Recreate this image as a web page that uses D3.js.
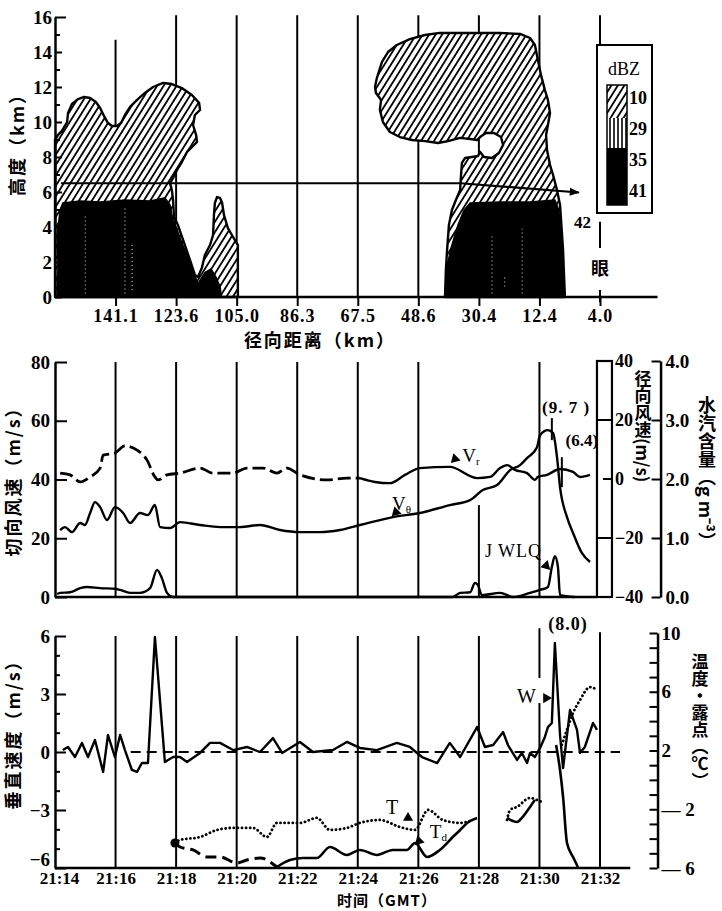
<!DOCTYPE html>
<html>
<head>
<meta charset="utf-8">
<script src="https://cdn.jsdelivr.net/npm/d3@7"></script>
<style>
  body { margin: 0; background: #fff; }
  svg text { font-family: "Liberation Serif", "DejaVu Serif", serif; fill: #000; }
  svg .cn { font-family: "Noto Sans CJK SC", sans-serif; font-weight: 700; }
</style>
</head>
<body>
<svg id="chart" width="722" height="911"></svg>
<script>
// ---- time axis: minutes after 21:14 ----
var timeTicks = [0, 2, 4, 6, 8, 10, 12, 14, 16, 18];
var timeLabels = ["21:14", "21:16", "21:18", "21:20", "21:22", "21:24", "21:26", "21:28", "21:30", "21:32"];
var distTicks = [2, 4, 6, 8, 10, 12, 14, 16, 18];
var distLabels = ["141.1", "123.6", "105.0", "86.3", "67.5", "48.6", "30.4", "12.4", "4.0"];
var dbzLevels = ["10", "29", "35", "41"];

// ---- top panel: echo outlines [minute, height km] ----
var echo10Left = [[0,8.97],[0.10,9.26],[0.23,9.49],[0.40,10.0],[0.43,10.51],[0.56,11.03],[0.76,11.31],[0.96,11.43],
  [1.16,11.37],[1.35,11.14],[1.49,10.8],[1.62,10.34],[1.75,9.94],[1.88,9.77],[2.05,9.77],[2.18,9.94],[2.31,10.4],
  [2.48,10.86],[2.71,11.26],[2.97,11.66],[3.24,12.0],[3.57,12.23],[3.86,12.17],[4.19,11.94],[4.52,11.54],[4.76,11.09],
  [4.79,10.69],[4.62,10.4],[4.56,9.83],[4.66,9.26],[4.69,8.86],[4.56,8.63],[4.36,8.29],[4.19,7.71],[4.03,7.26],
  [3.90,6.8],[3.80,6.51],[3.86,6.11],[3.90,5.54],[3.93,4.57],[4.06,4.11],[4.23,3.26],[4.46,2.11],[4.62,1.26],
  [4.72,1.14],[4.85,1.66],[4.95,2.4],[5.12,2.97],[5.22,3.54],[5.25,4.69],[5.28,5.37],[5.35,5.71],[5.45,5.66],
  [5.52,5.37],[5.58,4.69],[5.71,3.94],[5.88,3.43],[6.04,2.97],[6.04,0],[0,0]];
var echo41Left = [[0.07,0],[0.10,1.83],[0.07,3.54],[0.17,4.97],[0.26,5.37],[0.83,5.49],[1.49,5.43],[2.31,5.54],
  [3.14,5.49],[3.63,5.66],[3.80,5.26],[3.86,4.69],[4.13,3.37],[4.39,2.23],[4.62,1.26],[4.72,0.69],[4.79,0]];
var echo41Bump = [[4.52,0],[4.70,0.7],[4.95,1.4],[5.15,1.6],[5.30,1.2],[5.45,0.6],[5.50,0]];
var echo10Right = [[10.57,12.0],[10.63,12.51],[10.80,13.43],[11.00,14.0],[11.29,14.4],[11.72,14.74],[12.22,14.97],
  [12.71,15.09],[14.70,15.09],[15.36,15.03],[15.69,14.8],[15.85,14.4],[15.95,13.54],[16.05,12.69],[16.18,11.83],
  [16.28,11.26],[16.35,10.51],[16.28,9.83],[16.22,9.26],[16.25,8.4],[16.35,7.54],[16.45,6.97],[16.58,6.11],
  [16.68,5.26],[16.78,2.69],[16.84,0],[12.88,0],[12.91,1.54],[12.95,2.69],[13.01,4.11],[13.11,4.97],[13.24,5.54],
  [13.38,6.11],[13.41,6.97],[13.44,7.66],[13.54,7.94],[13.77,8.0],[13.97,8.06],[14.04,8.29],[14.17,8.0],[14.43,7.94],
  [14.66,8.23],[14.80,8.69],[14.73,9.14],[14.50,9.37],[14.23,9.37],[14.04,9.14],[13.94,8.97],[13.71,9.03],
  [13.38,9.09],[12.98,8.91],[12.65,8.8],[12.22,8.91],[11.79,8.97],[11.39,9.14],[11.06,9.43],[10.83,10.0],
  [10.73,10.69],[10.77,11.26],[10.60,11.66]];
var echo41Right = [[12.88,0],[12.95,1.83],[13.11,2.97],[13.31,4.11],[13.51,4.97],[13.71,5.37],[14.70,5.43],
  [15.69,5.43],[16.51,5.54],[16.64,4.97],[16.74,2.69],[16.84,0]];
// light streaks inside the strong echo: [minute, bottom km, top km]
var echoStreaks = [[1.0,0.2,4.6],[2.31,0.2,5.1],[2.55,0.4,3.0],[14.43,0.2,3.6],[14.85,0.6,1.2],[15.43,0.2,3.9]];
var flightTrack = [[0.2,6.5],[13.4,6.5],[17.3,5.97]];

// ---- middle panel ----
// tangential wind V_theta (m/s, left axis)
var vTheta = [[0.17,22.8],[0.33,23.8],[0.56,22.1],[0.83,25.2],[0.99,24.5],[1.16,28.6],[1.32,32.3],[1.49,30.6],
  [1.72,26.2],[1.98,30.6],[2.25,28.6],[2.48,25.2],[2.81,28.6],[3.07,27.9],[3.30,31.3],[3.47,23.8],[3.80,23.5],
  [4.13,25.5],[4.79,24.5],[5.45,23.8],[6.11,23.8],[6.77,24.5],[7.43,22.8],[8.09,22.1],[8.75,22.1],[9.41,22.8],
  [10.07,24.5],[11.16,27.2],[12.05,28.6],[13.04,31.3],[13.71,33.0],[14.13,36.4],[14.60,38.1],[15.03,43.2],
  [15.36,44.9],[15.59,47.3],[15.92,51.0],[16.02,55.1],[16.28,56.8],[16.45,55.8],[16.58,47.6],[16.68,37.4],
  [16.91,27.2],[17.11,21.8],[17.40,15.0],[17.67,11.9]];
// radial wind V_r (m/s, inner right axis); dashed before 21:24
var vRadial = [[0.17,2.0],[0.50,1.4],[0.83,-1.0],[1.16,0.7],[1.49,3.7],[1.59,8.1],[1.98,8.8],[2.31,11.2],
  [2.71,9.8],[3.04,6.4],[3.30,0.7],[3.40,-0.3],[3.70,1.4],[4.13,2.0],[4.79,3.7],[5.22,2.0],[5.88,2.0],[6.34,3.7],
  [6.87,3.7],[7.33,2.0],[7.66,3.7],[8.09,1.4],[8.98,-0.3],[9.64,0.3],[10.07,0.3],[10.57,-1.0],[11.06,-1.4],
  [11.56,1.4],[12.05,3.7],[13.04,4.1],[13.94,0.3],[14.37,0.7],[14.70,3.7],[14.93,4.7],[15.19,3.1],[15.59,2.0],
  [15.85,-0.3],[15.95,0.7],[16.25,1.4],[16.68,3.4],[17.11,2.4],[17.34,0.7],[17.67,1.4]];
var vRadialDashEnd = 10.07;
// liquid water content JWLQ (g m^-3, outer right axis)
var jwlq = [[0.07,0.05],[0.17,0.07],[0.50,0.08],[0.83,0.15],[1.06,0.17],[1.49,0.15],[1.98,0.14],[2.15,0.12],
  [2.48,0.07],[2.81,0.07],[3.14,0.15],[3.37,0.46],[3.53,0.32],[3.70,0.07],[3.90,0],[13.14,0],[13.38,0.07],
  [13.71,0.08],[13.87,0.24],[13.97,0.20],[14.10,0.03],[14.70,0.07],[15.13,0],[15.69,0.07],[16.02,0.12],
  [16.28,0.17],[16.41,0.51],[16.51,0.69],[16.61,0.51],[16.68,0.03],[17.17,0]];

// ---- bottom panel ----
// vertical velocity W (m/s)
var wVel = [[0.26,0.1],[0.43,0.26],[0.66,-0.26],[0.89,0.47],[1.09,-0.26],[1.32,0.62],[1.59,-1.03],[1.75,0.88],
  [1.98,-0.26],[2.15,0.88],[2.31,0.1],[2.54,-0.93],[2.71,-1.03],[2.87,-0.57],[3.07,-0.57],[3.30,5.95],
  [3.63,-0.52],[3.90,-0.26],[4.13,-0.26],[4.36,-0.52],[4.79,-0.05],[5.12,0.47],[5.45,0.47],[5.88,0.1],
  [6.34,0.26],[6.77,0],[7.20,0.72],[7.50,-0.05],[8.09,0.52],[8.52,0],[9.18,0.1],[9.64,0.52],[10.07,0.21],
  [10.63,0.1],[11.29,0.47],[11.72,0.26],[12.12,-0.26],[12.62,-0.57],[13.04,0.47],[13.38,-0.26],[13.94,1.29],
  [14.20,0.26],[14.47,0.36],[14.80,1.03],[14.96,0.36],[15.26,-0.41],[15.42,-0.05],[15.59,-0.57],[15.69,-0.05],
  [15.85,-0.26],[16.02,0.21],[16.18,0.78],[16.28,1.29],[16.41,1.5],[16.51,5.64],[16.68,0.88],[16.78,-0.83],
  [17.01,2.17],[17.24,1.14],[17.34,-0.05],[17.50,0.26],[17.77,1.5],[17.90,1.14]];
var wZeroSpan = [2.5, 18.66];
// temperature T (deg C, right axis), null = gap
var tempT = [[3.96,-4.30],[4.13,-4.09],[4.79,-3.89],[5.35,-3.41],[5.88,-3.27],[6.54,-3.27],[7.00,-3.89],
  [7.33,-2.93],[8.09,-2.93],[8.65,-2.59],[9.08,-3.41],[9.64,-3.27],[10.07,-2.93],[10.73,-2.73],[11.39,-3.21],
  [11.89,-3.41],[12.32,-2.05],[12.81,-2.73],[13.38,-2.93],[13.80,-2.73],null,
  [14.93,-2.73],[15.03,-2.05],[15.26,-1.84],[15.69,-1.23],[15.92,-1.37],[16.08,-1.50],null,
  [16.74,2.38],[16.94,3.60],[17.11,4.55],[17.34,5.44],[17.67,6.32],[17.90,6.12]];
// dew point Td (deg C), dashed at first
var tempTd = [[3.96,-4.30],[4.13,-4.57],[4.56,-4.77],[5.02,-5.25],[5.45,-5.25],[6.01,-5.66],[6.34,-5.45],
  [6.77,-5.32],[7.33,-5.93],[7.76,-5.45],[8.19,-5.32],[8.65,-5.32],[9.08,-4.57],[9.64,-5.11],[10.07,-4.77],
  [10.63,-5.11],[11.16,-4.77],[11.62,-4.77],[11.89,-4.30],[12.29,-5.25],[12.71,-4.77],[13.14,-3.89],
  [13.38,-3.41],[13.61,-2.93],[13.94,-2.59],null,
  [14.93,-2.59],[15.26,-2.87],[15.42,-2.59],[15.69,-1.84],[15.85,-1.37],null,
  [16.55,2.38],[16.68,0.67],[16.78,-1.16],[16.91,-4.30],[17.11,-5.25],[17.27,-5.93]];
var tdDashEnd = 7.33;

// ---------------- scales ----------------
var x = d3.scaleLinear().domain([0, 18]).range([55, 600]);
var yH = d3.scaleLinear().domain([0, 16]).range([297, 17]);
var yV = d3.scaleLinear().domain([0, 80]).range([597, 362]);
var yR = d3.scaleLinear().domain([-40, 40]).range([597, 361]);
var yQ = d3.scaleLinear().domain([0, 4]).range([597, 361]);
var yW = d3.scaleLinear().domain([-6, 6]).range([868, 636]);
var yT = d3.scaleLinear().domain([-6, 10]).range([868, 633]);

var svg = d3.select("#chart");
var defs = svg.append("defs");

var hatch = defs.append("pattern").attr("id", "hatch").attr("patternUnits", "userSpaceOnUse")
  .attr("width", 5.5).attr("height", 5.5).attr("patternTransform", "rotate(32)");
hatch.append("rect").attr("width", 5.5).attr("height", 5.5).attr("fill", "#fff");
hatch.append("line").attr("x1", 2.75).attr("x2", 2.75).attr("y1", -1).attr("y2", 7)
  .attr("stroke", "#000").attr("stroke-width", 1.8);

var vlines = defs.append("pattern").attr("id", "vlines").attr("patternUnits", "userSpaceOnUse")
  .attr("width", 4).attr("height", 10);
vlines.append("rect").attr("width", 4).attr("height", 10).attr("fill", "#fff");
vlines.append("line").attr("x1", 2).attr("x2", 2).attr("y1", 0).attr("y2", 10)
  .attr("stroke", "#000").attr("stroke-width", 1.6);

defs.append("marker").attr("id", "arrow").attr("viewBox", "0 0 10 10")
  .attr("refX", 9).attr("refY", 5).attr("markerWidth", 14).attr("markerHeight", 10)
  .attr("markerUnits", "userSpaceOnUse").attr("orient", "auto")
  .append("path").attr("d", "M0,1L10,5L0,9Z").attr("fill", "#000");

function vline(t, y0, y1, w) {
  svg.append("line").attr("x1", x(t)).attr("x2", x(t)).attr("y1", y0).attr("y2", y1)
    .attr("stroke", "#000").attr("stroke-width", w || 2);
}
function hline(x0, x1, y, w) {
  svg.append("line").attr("x1", x0).attr("x2", x1).attr("y1", y).attr("y2", y)
    .attr("stroke", "#000").attr("stroke-width", w || 2.5);
}
function styleAxis(g, size) {
  g.select(".domain").attr("stroke-width", 2.5);
  g.selectAll(".tick line").attr("stroke-width", 2);
  g.selectAll(".tick text").attr("font-size", size || 18).attr("font-weight", "bold");
}

// ================= TOP PANEL =================
timeTicks.forEach(function (t) {
  if (t === 0) return;
  if (t === 2) vline(t, yH(14.7), yH(9.7));
  else if (t === 18) {
    vline(t, yH(16.1), yH(14.4));
    vline(t, yH(4.3), yH(2.8));
    vline(t, yH(0.4), yH(-0.3));
  } else vline(t, yH(16.1), yH(0));
});

var poly = d3.line().x(function (d) { return x(d[0]); }).y(function (d) { return yH(d[1]); })
  .curve(d3.curveLinearClosed);
[echo10Left, echo10Right].forEach(function (p) {
  svg.append("path").attr("d", poly(p)).attr("fill", "url(#hatch)")
    .attr("stroke", "#000").attr("stroke-width", 2.4).attr("stroke-linejoin", "round");
});
[echo41Left, echo41Bump, echo41Right].forEach(function (p) {
  svg.append("path").attr("d", poly(p)).attr("fill", "#000").attr("stroke", "#000").attr("stroke-width", 1.5);
});
echoStreaks.forEach(function (s) {
  svg.append("line").attr("x1", x(s[0])).attr("x2", x(s[0])).attr("y1", yH(s[1])).attr("y2", yH(s[2]))
    .attr("stroke", "#bbb").attr("stroke-width", 1.2).attr("stroke-dasharray", "1,3");
});

svg.append("path").attr("d", d3.line().x(function (d) { return x(d[0]); }).y(function (d) { return yH(d[1]); })(flightTrack))
  .attr("fill", "none").attr("stroke", "#000").attr("stroke-width", 2.2).attr("marker-end", "url(#arrow)");

// axes
var gTopL = svg.append("g").attr("transform", "translate(" + x(0) + ",0)")
  .call(d3.axisLeft(yH).tickValues(d3.range(0, 17)).tickSizeInner(-6).tickSizeOuter(0).tickPadding(3)
    .tickFormat(function (d) { return d % 2 ? "" : d; }));
styleAxis(gTopL, 19);
gTopL.selectAll(".tick line").attr("x2", function (d) { return d === 16 ? 11 : (d % 2 ? 5 : 7); });

var gTopB = svg.append("g").attr("transform", "translate(0," + yH(0) + ")")
  .call(d3.axisBottom(x).tickValues(distTicks).tickSizeInner(9).tickSizeOuter(0).tickPadding(3)
    .tickFormat(function (d, i) { return distLabels[i]; }));
gTopB.select(".domain").remove();
styleAxis(gTopB, 18);
gTopB.selectAll(".tick text").attr("letter-spacing", 1);
hline(x(0), x(19.9), yH(0));

// legend
var lg = svg.append("g");
lg.append("rect").attr("x", 597).attr("y", 45).attr("width", 55).attr("height", 168)
  .attr("fill", "#fff").attr("stroke", "#000").attr("stroke-width", 2);
lg.append("text").attr("x", 624).attr("y", 75).attr("text-anchor", "middle").attr("font-size", 18).text("dBZ");
lg.append("rect").attr("x", 607).attr("y", 85).attr("width", 20).attr("height", 33).attr("fill", "url(#hatch)");
lg.append("rect").attr("x", 607).attr("y", 118).attr("width", 20).attr("height", 30).attr("fill", "url(#vlines)");
lg.append("rect").attr("x", 607).attr("y", 148).attr("width", 20).attr("height", 57).attr("fill", "#000");
lg.append("rect").attr("x", 607).attr("y", 85).attr("width", 20).attr("height", 120)
  .attr("fill", "none").attr("stroke", "#000").attr("stroke-width", 1.5);
lg.selectAll("text.lv").data(dbzLevels).enter().append("text").attr("class", "lv")
  .attr("x", 629).attr("y", function (d, i) { return 104 + i * 31; })
  .attr("font-size", 18).attr("font-weight", "bold").text(function (d) { return d; });
svg.append("text").attr("x", 591).attr("y", 228).attr("text-anchor", "end").attr("font-size", 17)
  .attr("font-weight", "bold").text("42");
svg.append("text").attr("class", "cn").attr("x", x(18)).attr("y", 275).attr("text-anchor", "middle")
  .attr("font-size", 18).text("眼");

svg.append("text").attr("transform", "translate(24,140) rotate(-90)").attr("class", "cn")
  .attr("text-anchor", "middle").attr("font-size", 18).attr("letter-spacing", 2).text("高度（km）");
svg.append("text").attr("class", "cn").attr("x", 320).attr("y", 347).attr("text-anchor", "middle")
  .attr("font-size", 18).attr("letter-spacing", 2).text("径向距离（km）");

// ================= MIDDLE PANEL =================
timeTicks.forEach(function (t) {
  if (t === 0 || t === 18) return;
  if (t === 14) vline(t, yV(31.3), yV(0));
  else vline(t, yV(80), yV(0));
});

function series(data, ys) {
  return d3.line().defined(function (d) { return d !== null; })
    .x(function (d) { return x(d[0]); }).y(function (d) { return ys(d[1]); })
    .curve(d3.curveMonotoneX)(data);
}
svg.append("path").attr("d", series(vRadial.filter(function (d) { return d[0] <= vRadialDashEnd; }), yR))
  .attr("fill", "none").attr("stroke", "#000").attr("stroke-width", 2.8).attr("stroke-dasharray", "13,5");
svg.append("path").attr("d", series(vRadial.filter(function (d) { return d[0] >= vRadialDashEnd; }), yR))
  .attr("fill", "none").attr("stroke", "#000").attr("stroke-width", 2.4);
svg.append("path").attr("d", series(vTheta, yV)).attr("fill", "none").attr("stroke", "#000").attr("stroke-width", 2.4);
svg.append("path").attr("d", series(jwlq, yQ)).attr("fill", "none").attr("stroke", "#000").attr("stroke-width", 2.4);

// off-scale markers
svg.append("line").attr("x1", x(16.41)).attr("x2", x(16.41)).attr("y1", yV(60.9)).attr("y2", yV(53.4))
  .attr("stroke", "#000").attr("stroke-width", 2);
svg.append("line").attr("x1", x(16.74)).attr("x2", x(16.74)).attr("y1", yV(47.6)).attr("y2", yV(37.4))
  .attr("stroke", "#000").attr("stroke-width", 2);
svg.append("text").attr("x", x(16.88)).attr("y", yV(62.6)).attr("text-anchor", "middle").attr("font-size", 17)
  .attr("font-weight", "bold").attr("letter-spacing", 1).text("(9. 7 )");
svg.append("text").attr("x", x(17.40)).attr("y", yV(51.4)).attr("text-anchor", "middle").attr("font-size", 17)
  .attr("font-weight", "bold").text("(6.4)");

// labels and pointers
function pointer(t, v, ys, rot) {
  svg.append("path").attr("d", d3.symbol().type(d3.symbolTriangle).size(45)())
    .attr("transform", "translate(" + x(t) + "," + ys(v) + ") rotate(" + rot + ")").attr("fill", "#000");
}
function subLabel(t, v, ys, main, sub) {
  var tx = svg.append("text").attr("x", x(t)).attr("y", ys(v)).attr("font-size", 19);
  tx.append("tspan").text(main);
  if (sub) tx.append("tspan").attr("font-size", 11).attr("dy", 3).text(sub);
}
pointer(13.21, 6.8, yR, 225);
subLabel(13.45, 5.8, yR, "V", "r");
pointer(11.26, 28.9, yV, 225);
subLabel(11.13, 29.6, yV, "V", "θ");
pointer(16.22, 0.53, yQ, 135);
svg.append("text").attr("x", x(14.2)).attr("y", yV(13.6)).attr("font-size", 18).attr("letter-spacing", 1).text("J WLQ");

// axes
var gMidL = svg.append("g").attr("transform", "translate(" + x(0) + ",0)")
  .call(d3.axisLeft(yV).tickValues([0, 20, 40, 60, 80]).tickSizeInner(-12).tickSizeOuter(0).tickPadding(5));
styleAxis(gMidL, 19);
hline(x(0), x(17.9), yV(0));

// radial-wind box axis
var bx0 = x(17.9), bx1 = x(17.9) + 15;
svg.append("rect").attr("x", bx0).attr("y", yR(40)).attr("width", bx1 - bx0).attr("height", yR(-40) - yR(40))
  .attr("fill", "none").attr("stroke", "#000").attr("stroke-width", 2.2);
[20, -20].forEach(function (v) { hline(bx0, bx1, yR(v), 2); });
hline(bx0 + 6, bx1, yR(0), 2);
svg.selectAll("text.rl").data([40, 20, 0, -20, -40]).enter().append("text").attr("class", "rl")
  .attr("x", bx1 + 3).attr("y", function (d) { return yR(d); }).attr("dy", "0.35em").attr("font-size", 18)
  .attr("font-weight", "bold").text(function (d) { return d3.format("d")(d); });

var gMidR = svg.append("g").attr("transform", "translate(" + x(20) + ",0)")
  .call(d3.axisRight(yQ).tickValues([0, 1, 2, 3, 4]).tickSizeInner(-9).tickSizeOuter(0).tickPadding(5)
    .tickFormat(d3.format(".1f")));
styleAxis(gMidR, 19);

svg.append("text").attr("transform", "translate(20,477) rotate(-90)").attr("class", "cn")
  .attr("text-anchor", "middle").attr("font-size", 18).attr("letter-spacing", 2).text("切向风速（m/s）");
svg.append("text").attr("class", "cn").attr("x", 643).attr("y", 370).style("writing-mode", "vertical-rl")
  .attr("font-size", 17).text("径向风速(m/s)");
svg.append("text").attr("class", "cn").attr("x", 707).attr("y", 396).style("writing-mode", "vertical-rl")
  .attr("font-size", 18).text("水汽含量（g m⁻³）");

// ================= BOTTOM PANEL =================
timeTicks.forEach(function (t) {
  if (t === 0) return;
  if (t === 16) { vline(t, yW(6.4), yW(3.83)); vline(t, yW(2.53), yW(-6)); }
  else if (t === 18) vline(t, yW(6.2), yW(-6));
  else vline(t, yW(6), yW(-6));
});

svg.append("line").attr("x1", x(wZeroSpan[0])).attr("x2", x(wZeroSpan[1])).attr("y1", yW(0)).attr("y2", yW(0))
  .attr("stroke", "#000").attr("stroke-width", 2).attr("stroke-dasharray", "10,6");

var lin = function (data, ys) {
  return d3.line().defined(function (d) { return d !== null; })
    .x(function (d) { return x(d[0]); }).y(function (d) { return ys(d[1]); })(data);
};
svg.append("path").attr("d", lin(wVel, yW)).attr("fill", "none").attr("stroke", "#000")
  .attr("stroke-width", 2.4).attr("stroke-linejoin", "round");
svg.append("path").attr("d", series(tempT, yT)).attr("fill", "none").attr("stroke", "#000")
  .attr("stroke-width", 2.8).attr("stroke-dasharray", "0.1,4").attr("stroke-linecap", "round");
var tdSplit = tempTd.findIndex(function (d) { return d && d[0] >= tdDashEnd; });
svg.append("path").attr("d", series(tempTd.slice(0, tdSplit + 1), yT)).attr("fill", "none").attr("stroke", "#000")
  .attr("stroke-width", 3).attr("stroke-dasharray", "11,6");
svg.append("path").attr("d", series(tempTd.slice(tdSplit), yT)).attr("fill", "none").attr("stroke", "#000")
  .attr("stroke-width", 2.6);
svg.append("circle").attr("cx", x(tempT[0][0])).attr("cy", yT(tempT[0][1])).attr("r", 4.5).attr("fill", "#000");

svg.append("text").attr("x", x(16.94)).attr("y", yW(6.31)).attr("text-anchor", "middle").attr("font-size", 18)
  .attr("font-weight", "bold").attr("letter-spacing", 1).text("(8.0)");
pointer(16.22, 2.79, yW, 90);
svg.append("text").attr("x", x(15.26)).attr("y", yW(2.53)).attr("font-size", 20).text("W");
pointer(11.66, -2.59, yT, 120);
svg.append("text").attr("x", x(10.93)).attr("y", yT(-2.32)).attr("font-size", 20).text("T");
pointer(12.02, -4.16, yT, 225);
subLabel(12.38, -3.96, yT, "T", "d");

// axes
var gBotL = svg.append("g").attr("transform", "translate(" + x(0) + ",0)")
  .call(d3.axisLeft(yW).tickValues(d3.range(-6, 7)).tickSizeInner(-6).tickSizeOuter(0).tickPadding(5)
    .tickFormat(function (d) { return d % 3 ? "" : d3.format("d")(d); }));
styleAxis(gBotL, 19);
gBotL.selectAll(".tick line").attr("x2", function (d) { return d % 3 ? 5 : 11; });
gBotL.selectAll(".tick text").attr("dy", function (d) { return d === -6 ? "-0.15em" : "0.32em"; });

var gBotR = svg.append("g").attr("transform", "translate(" + x(19.9) + ",0)")
  .call(d3.axisRight(yT).tickValues(d3.range(-6, 11)).tickSizeInner(-8).tickSizeOuter(0).tickPadding(4)
    .tickFormat(function (d) { return [10, 6, 2].indexOf(d) >= 0 ? d : (d === -2 || d === -6 ? "— " + (-d) : ""); }));
styleAxis(gBotR, 19);

var gBotB = svg.append("g").attr("transform", "translate(0," + yW(-6) + ")")
  .call(d3.axisBottom(x).tickValues(timeTicks).tickSize(0).tickPadding(4)
    .tickFormat(function (d, i) { return timeLabels[i]; }));
gBotB.select(".domain").remove();
styleAxis(gBotB, 17);
gBotB.selectAll(".tick text").attr("dx", function (d) { return d === 0 ? 4 : 0; });
hline(x(0), x(19), yW(-6));

svg.append("text").attr("transform", "translate(20,730) rotate(-90)").attr("class", "cn")
  .attr("text-anchor", "middle").attr("font-size", 18).attr("letter-spacing", 2).text("垂直速度（m/s）");
svg.append("text").attr("class", "cn").attr("x", 700).attr("y", 653).style("writing-mode", "vertical-rl")
  .attr("font-size", 17).text("温度·露点（℃）");
svg.append("text").attr("class", "cn").attr("x", 387).attr("y", 906).attr("text-anchor", "middle")
  .attr("font-size", 15).attr("letter-spacing", 1).text("时间（GMT）");
</script>
</body>
</html>
